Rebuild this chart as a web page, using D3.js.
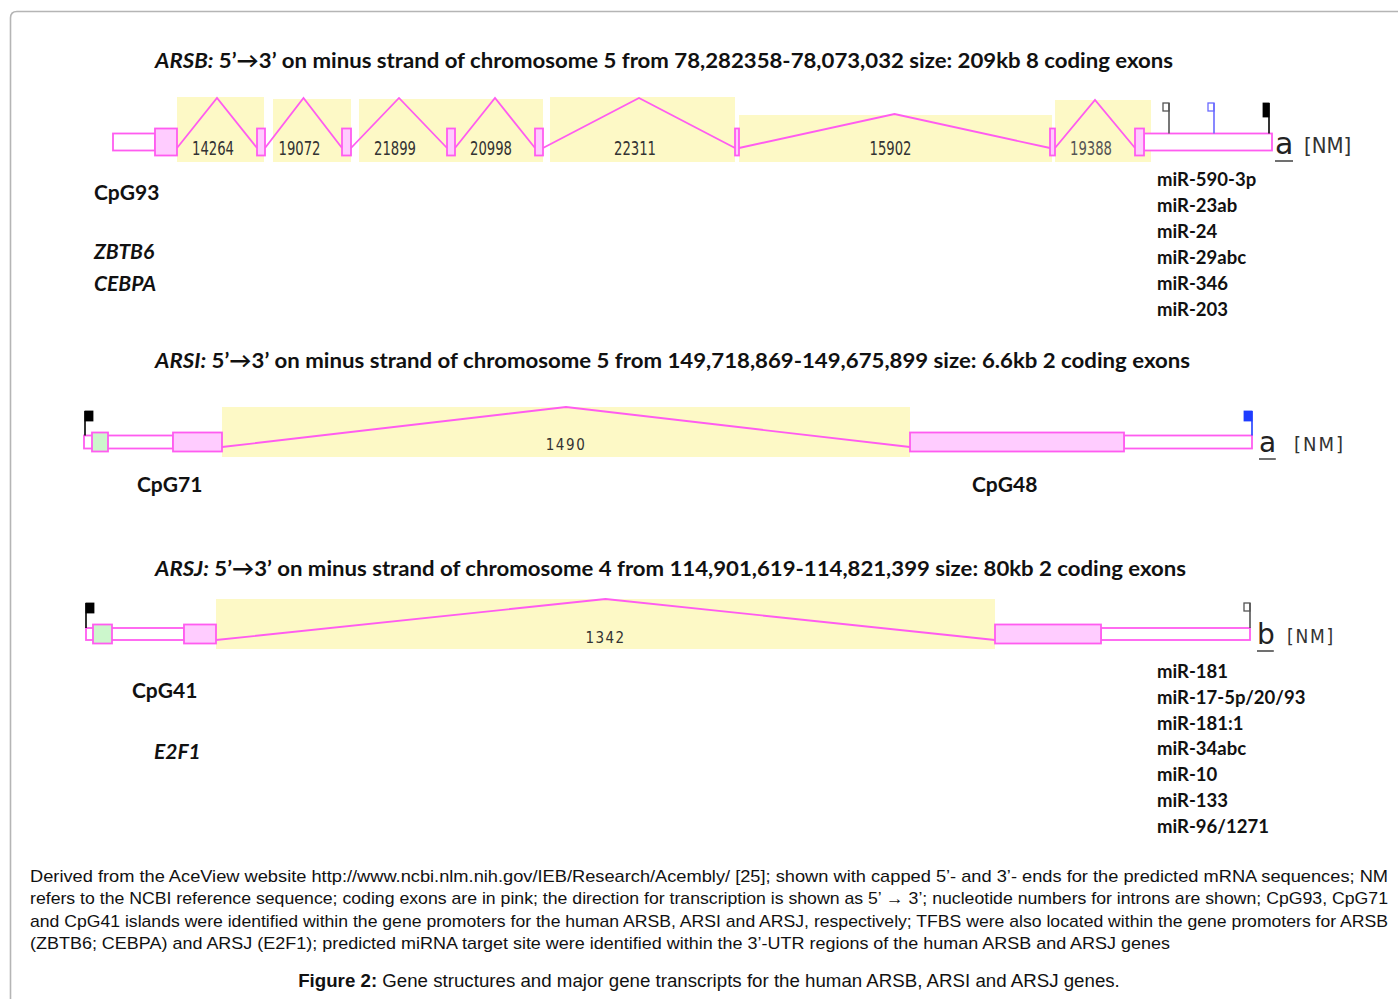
<!DOCTYPE html>
<html>
<head>
<meta charset="utf-8">
<script src="https://cdn.jsdelivr.net/npm/d3@7"></script>
<style>
  body { margin: 0; background: #fff; }
  svg { display: block; }
  .lbl { font-family: Lato, "Open Sans", sans-serif; font-weight: 700; fill: #111; }
  .intr { font-family: "DejaVu Sans Condensed", "DejaVu Sans", sans-serif; fill: #333; }
  .cap { font-family: "Liberation Sans Narrow", "Arial Narrow", "Liberation Sans", sans-serif; fill: #111; }
</style>
</head>
<body>
<svg width="1398" height="999"></svg>
<script>
// ---- data: transcript pieces in diagram units along each gene ----
const arsbUtr = [[113, 155], [1144, 1272]];
const arsbCds = [[155, 177], [257, 265], [342, 351], [447, 455], [535, 543], [735, 739], [1050, 1055], [1135, 1144]];
const arsbIntrons = [[177, 257, 50], [265, 342, 50], [351, 447, 50], [455, 535, 50], [543, 735, 50], [739, 1050, 34], [1055, 1135, 48]];
const arsbIntronLabels = ['14264', '19072', '21899', '20998', '22311', '15902', '19388'];
const arsbShade = [[177, 264, 51], [273, 351, 49], [359, 543, 49], [550, 735, 51], [739, 1052, 33], [1055, 1151, 48]];
const arsbMarks = [[1169, 'mir'], [1214, 'mirBlue'], [1269, 'cap3']];
const arsbMirs = ['miR-590-3p', 'miR-23ab', 'miR-24', 'miR-29abc', 'miR-346', 'miR-203'];
const arsbTfbs = ['ZBTB6', 'CEBPA'];

const arsiUtr = [[84, 173], [1124, 1252]];
const arsiCds = [[173, 222], [910, 1124]];
const arsiCpg = [[92, 108]];
const arsiIntrons = [[222, 910, 40]];
const arsiIntronLabels = ['1490'];
const arsiShade = [[222, 910, 40]];
const arsiMarks = [[85, 'cap5'], [1252, 'cap3Blue']];

const arsjUtr = [[86, 184], [1101, 1250]];
const arsjCds = [[184, 216], [995, 1101]];
const arsjCpg = [[93, 112]];
const arsjIntrons = [[216, 995, 41]];
const arsjIntronLabels = ['1342'];
const arsjShade = [[216, 995, 41]];
const arsjMarks = [[86, 'cap5'], [1250, 'mirLeft']];
const arsjMirs = ['miR-181', 'miR-17-5p/20/93', 'miR-181:1', 'miR-34abc', 'miR-10', 'miR-133', 'miR-96/1271'];
const arsjTfbs = ['E2F1'];

const captionLines = [
  'Derived from the AceView website http://www.ncbi.nlm.nih.gov/IEB/Research/Acembly/ [25]; shown with capped 5\u2019- and 3\u2019- ends for the predicted mRNA sequences; NM',
  'refers to the NCBI reference sequence; coding exons are in pink; the direction for transcription is shown as 5\u2019 \u2192 3\u2019; nucleotide numbers for introns are shown; CpG93, CpG71',
  'and CpG41 islands were identified within the gene promoters for the human ARSB, ARSI and ARSJ, respectively; TFBS were also located within the gene promoters for ARSB',
  '(ZBTB6; CEBPA) and ARSJ (E2F1); predicted miRNA target site were identified within the 3\u2019-UTR regions of the human ARSB and ARSJ genes'
];

const svg = d3.select('svg');
const x = d3.scaleLinear().domain([0, 1398]).range([0, 1398]);

const pink = '#ff5cf0';
const pinkFill = '#ffccff';
const shadeFill = '#fdf9c6';

// frame
svg.append('path')
  .attr('d', 'M10.5,1000 L10.5,18 Q10.5,11.5 17,11.5 L1400,11.5')
  .attr('fill', 'none')
  .attr('stroke', '#b5b5b5')
  .attr('stroke-width', 1.6);

function drawTrack(t) {
  const g = svg.append('g');
  const rise = d3.scaleLinear().domain([0, 1]).range([t.base, t.base - 1]);

  g.selectAll('rect.shade')
    .data(t.shade)
    .join('rect')
    .attr('x', d => x(d[0]))
    .attr('width', d => x(d[1]) - x(d[0]))
    .attr('y', d => rise(d[2]))
    .attr('height', d => t.shadeBottom - rise(d[2]))
    .attr('fill', shadeFill);

  g.selectAll('path.intron')
    .data(t.introns)
    .join('path')
    .attr('d', d => {
      const mid = (x(d[0]) + x(d[1])) / 2;
      return `M${x(d[0])},${t.base} L${mid},${rise(d[2])} L${x(d[1])},${t.base}`;
    })
    .attr('fill', 'none')
    .attr('stroke', pink)
    .attr('stroke-width', 1.8);

  g.selectAll('text.intr')
    .data(t.introns)
    .join('text')
    .attr('class', 'intr')
    .attr('x', d => (x(d[0]) + x(d[1])) / 2 + t.labelDx)
    .attr('y', t.labelY)
    .attr('text-anchor', 'middle')
    .style('font-size', t.labelSize + 'px')
    .style('letter-spacing', t.labelSpacing + 'px')
    .style('fill', (d, i) => t.labelColor ? t.labelColor[i] : '#333')
    .attr('textLength', t.labelLen || null)
    .attr('lengthAdjust', 'spacingAndGlyphs')
    .text((d, i) => t.labels[i]);

  g.selectAll('rect.utr')
    .data(t.utr)
    .join('rect')
    .attr('x', d => x(d[0]))
    .attr('width', d => x(d[1]) - x(d[0]))
    .attr('y', t.cy - t.utrH / 2)
    .attr('height', t.utrH)
    .attr('fill', '#fff')
    .attr('stroke', pink)
    .attr('stroke-width', 1.8);

  g.selectAll('rect.cds')
    .data(t.cds)
    .join('rect')
    .attr('x', d => x(d[0]))
    .attr('width', d => Math.max(1, x(d[1]) - x(d[0])))
    .attr('y', t.cy - t.cdsH / 2)
    .attr('height', t.cdsH)
    .attr('fill', pinkFill)
    .attr('stroke', pink)
    .attr('stroke-width', 1.8);

  g.selectAll('rect.cpg')
    .data(t.cpg || [])
    .join('rect')
    .attr('x', d => x(d[0]))
    .attr('width', d => x(d[1]) - x(d[0]))
    .attr('y', t.cy - t.cdsH / 2)
    .attr('height', t.cdsH)
    .attr('fill', '#ccf7cc')
    .attr('stroke', pink)
    .attr('stroke-width', 1.8);

  // caps and miRNA sites
  const markStyle = {
    mir: { color: '#555', filled: false, dir: -1 },
    mirBlue: { color: '#6a6aff', filled: false, dir: -1 },
    mirLeft: { color: '#555', filled: false, dir: -1 },
    cap3: { color: '#000', filled: true, dir: -1 },
    cap3Blue: { color: '#1f3cff', filled: true, dir: -1 },
    cap5: { color: '#000', filled: true, dir: 1 }
  };
  t.marks.forEach(m => {
    const s = markStyle[m[1]];
    const mx = x(m[0]);
    g.append('line')
      .attr('x1', mx).attr('x2', mx)
      .attr('y1', t.flagTop).attr('y2', t.cy - t.utrH / 2)
      .attr('stroke', s.color)
      .attr('stroke-width', 1.6);
    const w = s.filled ? t.flagW : 6;
    const h = s.filled ? t.flagH : 8;
    g.append('rect')
      .attr('x', s.dir < 0 ? mx - w : mx)
      .attr('y', t.flagTop)
      .attr('width', w)
      .attr('height', h)
      .attr('fill', s.filled ? s.color : 'none')
      .attr('stroke', s.color)
      .attr('stroke-width', s.filled ? 0.8 : 1.3);
  });

  // transcript name
  g.append('text')
    .attr('x', t.nmX)
    .attr('y', t.nmY)
    .style('font-family', '"DejaVu Sans", sans-serif')
    .style('font-size', t.nmSize + 'px')
    .style('fill', '#222')
    .text(t.variant);
  g.append('line')
    .attr('x1', t.nmX).attr('x2', t.nmX + t.nmSize * 0.6)
    .attr('y1', t.nmY + 7).attr('y2', t.nmY + 7)
    .attr('stroke', '#333').attr('stroke-width', 1.4);
  g.append('text')
    .attr('x', t.bracketX)
    .attr('y', t.nmY - 1)
    .style('font-family', '"DejaVu Sans Condensed", "DejaVu Sans", sans-serif')
    .style('font-size', t.bracketSize + 'px')
    .style('letter-spacing', t.bracketSpacing + 'px')
    .style('fill', '#333')
    .text('[NM]');

  // title
  const title = svg.append('text')
    .attr('class', 'lbl')
    .attr('x', 155)
    .attr('y', t.titleY)
    .style('font-size', '21px')
    .attr('textLength', t.titleLen)
    .attr('lengthAdjust', 'spacingAndGlyphs');
  title.append('tspan').style('font-style', 'italic').text(t.gene + ':');
  title.append('tspan').text(' ' + t.title);
}

drawTrack({
  gene: 'ARSB', title: '5\u2019\u21923\u2019 on minus strand of chromosome 5 from 78,282358-78,073,032 size: 209kb 8 coding exons',
  titleY: 68, titleLen: 1018,
  utr: arsbUtr, cds: arsbCds, introns: arsbIntrons, labels: arsbIntronLabels, shade: arsbShade, marks: arsbMarks,
  cy: 142, cdsH: 27, utrH: 17, base: 148, shadeBottom: 162, flagTop: 103, flagW: 6, flagH: 14,
  labelY: 155, labelSize: 19, labelSpacing: 0, labelDx: -4, labelLen: 42,
  labelColor: ['#333', '#333', '#333', '#333', '#333', '#333', '#555'],
  variant: 'a', nmX: 1275, nmY: 154, nmSize: 30, bracketX: 1304, bracketSize: 22, bracketSpacing: 0
});

drawTrack({
  gene: 'ARSI', title: '5\u2019\u21923\u2019 on minus strand of chromosome 5 from 149,718,869-149,675,899 size: 6.6kb 2 coding exons',
  titleY: 368, titleLen: 1035,
  utr: arsiUtr, cds: arsiCds, cpg: arsiCpg, introns: arsiIntrons, labels: arsiIntronLabels, shade: arsiShade, marks: arsiMarks,
  cy: 442, cdsH: 19, utrH: 13, base: 447, shadeBottom: 457, flagTop: 411, flagW: 8, flagH: 10,
  labelY: 450, labelSize: 15, labelSpacing: 1.6, labelDx: 0,
  variant: 'a', nmX: 1259, nmY: 452, nmSize: 28, bracketX: 1294, bracketSize: 20, bracketSpacing: 2
});

drawTrack({
  gene: 'ARSJ', title: '5\u2019\u21923\u2019 on minus strand of chromosome 4 from 114,901,619-114,821,399 size: 80kb 2 coding exons',
  titleY: 576, titleLen: 1031,
  utr: arsjUtr, cds: arsjCds, cpg: arsjCpg, introns: arsjIntrons, labels: arsjIntronLabels, shade: arsjShade, marks: arsjMarks,
  cy: 634, cdsH: 19, utrH: 12, base: 640, shadeBottom: 649, flagTop: 603, flagW: 8, flagH: 10,
  labelY: 643, labelSize: 15, labelSpacing: 1.4, labelDx: 0,
  variant: 'b', nmX: 1257, nmY: 644, nmSize: 28, bracketX: 1287, bracketSize: 19, bracketSpacing: 1.8
});

// promoter / CpG / TFBS labels
const side = svg.append('g');
side.append('text').attr('class', 'lbl').attr('x', 94).attr('y', 200).style('font-size', '21px').text('CpG93');
side.selectAll('text.tfb')
  .data(arsbTfbs).join('text')
  .attr('class', 'lbl')
  .attr('x', 94).attr('y', (d, i) => 259 + i * 32)
  .style('font-size', '21px').style('font-style', 'italic')
  .text(d => d);
side.append('text').attr('class', 'lbl').attr('x', 137).attr('y', 492).style('font-size', '21px').text('CpG71');
side.append('text').attr('class', 'lbl').attr('x', 972).attr('y', 492).style('font-size', '21px').text('CpG48');
side.append('text').attr('class', 'lbl').attr('x', 132).attr('y', 698).style('font-size', '21px').text('CpG41');
side.selectAll('text.tfj')
  .data(arsjTfbs).join('text')
  .attr('class', 'lbl')
  .attr('x', 154).attr('y', 759)
  .style('font-size', '21px').style('font-style', 'italic')
  .text(d => d);

// miRNA lists
side.selectAll('text.mirb')
  .data(arsbMirs).join('text')
  .attr('class', 'lbl')
  .attr('x', 1157).attr('y', (d, i) => 186 + i * 26)
  .style('font-size', '18.5px')
  .text(d => d);
side.selectAll('text.mirj')
  .data(arsjMirs).join('text')
  .attr('class', 'lbl')
  .attr('x', 1157).attr('y', (d, i) => 678 + i * 25.8)
  .style('font-size', '18.5px')
  .text(d => d);

// caption
const cap = svg.append('g');
cap.selectAll('text')
  .data(captionLines).join('text')
  .attr('class', 'cap')
  .attr('x', 30)
  .attr('y', (d, i) => 882 + i * 22.3)
  .style('font-size', '17px')
  .attr('textLength', (d, i) => i < 3 ? 1358 : 1140)
  .attr('lengthAdjust', 'spacingAndGlyphs')
  .text(d => d);

const fig = cap.append('text')
  .attr('x', 709)
  .attr('y', 987)
  .attr('text-anchor', 'middle')
  .style('font-family', '"Liberation Sans", Arial, sans-serif')
  .style('font-size', '18.7px')
  .style('fill', '#111');
fig.append('tspan').style('font-weight', 700).text('Figure 2:');
fig.append('tspan').text(' Gene structures and major gene transcripts for the human ARSB, ARSI and ARSJ genes.');
</script>
</body>
</html>
